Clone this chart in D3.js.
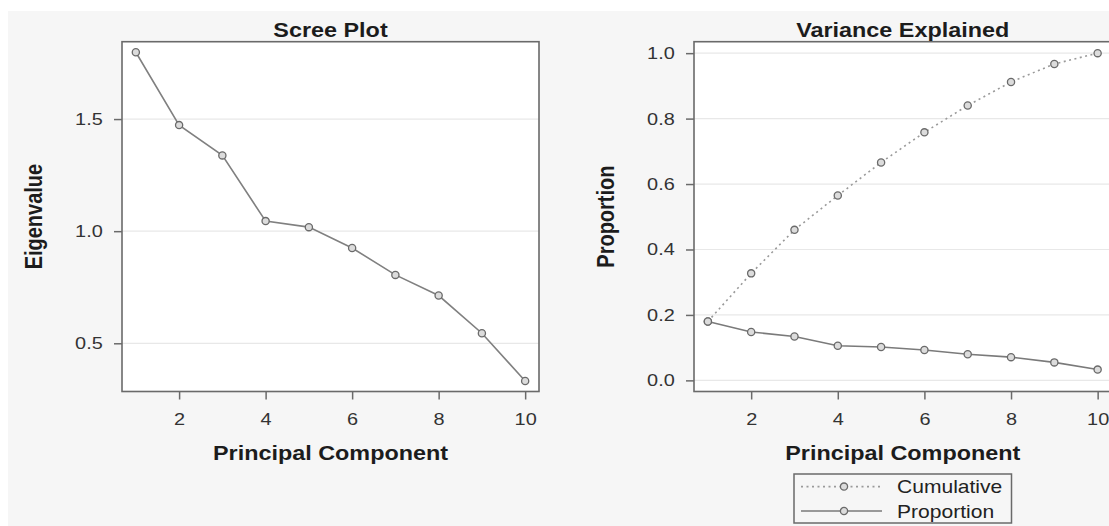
<!DOCTYPE html>
<html>
<head>
<meta charset="utf-8">
<script src="https://cdn.jsdelivr.net/npm/d3@7"></script>
<style>
  body { margin: 0; background: #fff; }
  svg { display: block; font-family: "Liberation Sans", Arial, sans-serif; }
</style>
</head>
<body>
<script>
// values
var components = [1, 2, 3, 4, 5, 6, 7, 8, 9, 10];
var eigenvalues = [1.798, 1.473, 1.338, 1.045, 1.018, 0.925, 0.805, 0.713, 0.545, 0.332];
var proportion = [0.180, 0.148, 0.134, 0.106, 0.102, 0.093, 0.080, 0.071, 0.055, 0.033];
var cumulative = [0.180, 0.327, 0.460, 0.565, 0.666, 0.758, 0.840, 0.912, 0.967, 1.000];
var xTicks = [2, 4, 6, 8, 10];
var eigenTicks = [0.5, 1.0, 1.5];
var propTicks = [0, 0.2, 0.4, 0.6, 0.8, 1.0];

var width = 1109,
    height = 526,
    SX = 1.17,            // the source picture is stretched sideways
    plotTop = 41.7,
    plotBottom = 391.5;

var svg = d3.select("body").append("svg")
    .attr("width", width)
    .attr("height", height);

svg.append("rect")
    .attr("x", 8).attr("y", 11)
    .attr("width", width - 8).attr("height", height - 11)
    .attr("fill", "#f6f6f6");

// widen horizontal text like the reference
function stretch(sel) {
  sel.each(function() {
    var t = d3.select(this);
    var x = +t.attr("x") || 0;
    t.attr("x", x / SX).attr("transform", "scale(" + SX + ",1)");
  });
}

function panel(o) {
  var x = d3.scaleLinear().domain([0.68, 10.32]).range([o.x0, o.x1]);
  var y = d3.scaleLinear().domain(o.yDomain).range([plotBottom, plotTop]);
  var g = svg.append("g");

  g.append("rect")
      .attr("x", o.x0).attr("y", plotTop)
      .attr("width", o.x1 - o.x0).attr("height", plotBottom - plotTop)
      .attr("fill", "#fff");

  g.selectAll(".grid")
      .data(o.yTicks)
    .enter().append("line")
      .attr("x1", o.x0).attr("x2", o.x1)
      .attr("y1", function(d) { return y(d); })
      .attr("y2", function(d) { return y(d); })
      .attr("stroke", "#e8e8e8")
      .attr("stroke-width", 1.2);

  var xa = g.append("g")
      .attr("transform", "translate(0," + plotBottom + ")")
      .call(d3.axisBottom(x).tickValues(xTicks).tickSize(8).tickPadding(13).tickSizeOuter(0));
  var ya = g.append("g")
      .attr("transform", "translate(" + o.x0 + ",0)")
      .call(d3.axisLeft(y).tickValues(o.yTicks).tickFormat(d3.format(".1f"))
            .tickSize(8).tickPadding(11.3).tickSizeOuter(0));

  [xa, ya].forEach(function(a) {
    a.attr("font-family", null).attr("font-size", null);
    a.select(".domain").remove();
    a.selectAll(".tick line").attr("stroke", "#6a6a6a").attr("stroke-width", 1.5);
    a.selectAll(".tick text").attr("fill", "#333").style("font-size", "17px");
    stretch(a.selectAll(".tick text"));
  });

  var line = d3.line()
      .x(function(d, i) { return x(components[i]); })
      .y(function(d) { return y(d); });

  o.series.forEach(function(s) {
    g.append("path")
        .datum(s.values)
        .attr("d", line)
        .attr("fill", "none")
        .attr("stroke", s.color)
        .attr("stroke-width", 1.6)
        .attr("stroke-dasharray", s.dash);
  });
  o.series.forEach(function(s) {
    g.selectAll(null)
        .data(s.values)
      .enter().append("circle")
        .attr("cx", function(d, i) { return x(components[i]); })
        .attr("cy", function(d) { return y(d); })
        .attr("r", 3.6)
        .attr("fill", "#dcdcdc")
        .attr("stroke", "#6a6a6a")
        .attr("stroke-width", 1.3);
  });

  g.append("rect")
      .attr("x", o.x0).attr("y", plotTop)
      .attr("width", o.x1 - o.x0).attr("height", plotBottom - plotTop)
      .attr("fill", "none")
      .attr("stroke", "#6a6a6a")
      .attr("stroke-width", 1.6);

  var cx = (o.x0 + o.x1) / 2;
  var title = g.append("g").attr("transform", "translate(" + cx + ",36.7)")
    .append("text")
      .attr("text-anchor", "middle")
      .style("font-size", "20px").style("font-weight", "bold")
      .attr("fill", "#1c1c1c")
      .text(o.title);
  stretch(title);

  var xl = g.append("g").attr("transform", "translate(" + cx + ",460)")
    .append("text")
      .attr("text-anchor", "middle")
      .style("font-size", "20px").style("font-weight", "bold")
      .attr("fill", "#1c1c1c")
      .text("Principal Component");
  stretch(xl);

  g.append("text")
      .attr("transform", "translate(" + (o.x0 - 80) + "," + ((plotTop + plotBottom) / 2) + ") scale(" + SX + ",1) rotate(-90)")
      .attr("text-anchor", "middle")
      .style("font-size", "20px").style("font-weight", "bold")
      .attr("fill", "#1c1c1c")
      .text(o.yLabel);
}

panel({
  x0: 122, x1: 539,
  yDomain: [0.285, 1.845],
  yTicks: eigenTicks,
  title: "Scree Plot",
  yLabel: "Eigenvalue",
  series: [{values: eigenvalues, color: "#808080", dash: null}]
});

panel({
  x0: 694, x1: 1111.5,
  yDomain: [-0.034, 1.035],
  yTicks: propTicks,
  title: "Variance Explained",
  yLabel: "Proportion",
  series: [
    {values: cumulative, color: "#9a9a9a", dash: "2,3.5"},
    {values: proportion, color: "#7a7a7a", dash: null}
  ]
});

// legend
var legendItems = [
  {name: "Cumulative", color: "#9a9a9a", dash: "2,3.5"},
  {name: "Proportion", color: "#7a7a7a", dash: null}
];
var legend = svg.append("g");
legend.append("rect")
    .attr("x", 794).attr("y", 474)
    .attr("width", 217.5).attr("height", 49)
    .attr("fill", "none")
    .attr("stroke", "#6a6a6a")
    .attr("stroke-width", 1.5);
var row = legend.selectAll(".row")
    .data(legendItems)
  .enter().append("g")
    .attr("transform", function(d, i) { return "translate(0," + (486.6 + i * 24.4) + ")"; });
row.append("line")
    .attr("x1", 801).attr("x2", 882)
    .attr("stroke", function(d) { return d.color; })
    .attr("stroke-width", 1.6)
    .attr("stroke-dasharray", function(d) { return d.dash; });
row.append("circle")
    .attr("cx", 844).attr("r", 3.6)
    .attr("fill", "#dcdcdc")
    .attr("stroke", "#6a6a6a")
    .attr("stroke-width", 1.3);
row.append("g")
    .attr("transform", "translate(897,6.5)")
  .append("text")
    .style("font-size", "18px")
    .attr("fill", "#222")
    .text(function(d) { return d.name; })
    .call(stretch);
</script>
</body>
</html>
